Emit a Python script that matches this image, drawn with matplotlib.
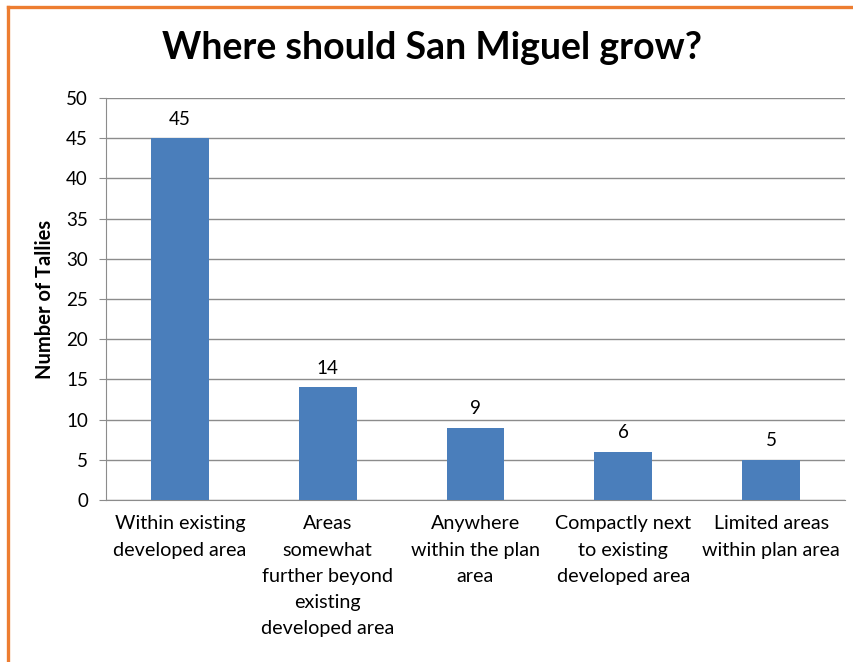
import matplotlib.pyplot as plt
from matplotlib.lines import Line2D

categories = [
    "Within existing\ndeveloped area",
    "Areas\nsomewhat\nfurther beyond\nexisting\ndeveloped area",
    "Anywhere\nwithin the plan\narea",
    "Compactly next\nto existing\ndeveloped area",
    "Limited areas\nwithin plan area",
]
tallies = [45, 14, 9, 6, 5]
y_ticks = list(range(0, 55, 5))

BAR_COLOR = "#4a7ebb"
GRID_COLOR = "#8c8c8c"
BORDER_COLOR = "#ed7d31"

plt.rcParams["font.family"] = ["Lato", "DejaVu Sans"]

fig = plt.figure(figsize=(8.54, 6.62), dpi=100)
ax = fig.add_axes([106 / 854, 1 - 500 / 662, (845 - 106) / 854, (500 - 98) / 662])

x = range(len(categories))
bars = ax.bar(x, tallies, width=0.39, color=BAR_COLOR, zorder=3)
for b, v in zip(bars, tallies):
    ax.text(b.get_x() + b.get_width() / 2, v + 1.3, str(v),
            ha="center", va="bottom", fontsize=13.5)

ax.set_xlim(-0.5, len(categories) - 0.5)
ax.set_ylim(0, 50)
ax.set_yticks(y_ticks)
ax.tick_params(axis="y", labelsize=13.5, length=5, color=GRID_COLOR, pad=8)
ax.tick_params(axis="x", length=0, pad=11)
ax.set_xticks(list(x))
ax.set_xticklabels(categories, fontsize=14.2, linespacing=1.66, va="top")
ax.yaxis.grid(True, color=GRID_COLOR, linewidth=1, zorder=0)
for side in ("top", "right"):
    ax.spines[side].set_visible(False)
for side in ("left", "bottom"):
    ax.spines[side].set_color(GRID_COLOR)
ax.set_ylabel("Number of Tallies", fontsize=14.5, fontweight="bold", labelpad=8)

fig.text(0.506, 1 - 48 / 662, "Where should San Miguel grow?",
         ha="center", va="center", fontsize=27, fontweight="bold")

# orange frame along the top and left edges
top = 1 - 7 / 662
left = 8 / 854
fig.add_artist(Line2D([left, 1.0], [top, top], transform=fig.transFigure,
                      color=BORDER_COLOR, linewidth=2.4))
fig.add_artist(Line2D([left, left], [0, top], transform=fig.transFigure,
                      color=BORDER_COLOR, linewidth=2.4))

fig.savefig("out.png", dpi=100)
